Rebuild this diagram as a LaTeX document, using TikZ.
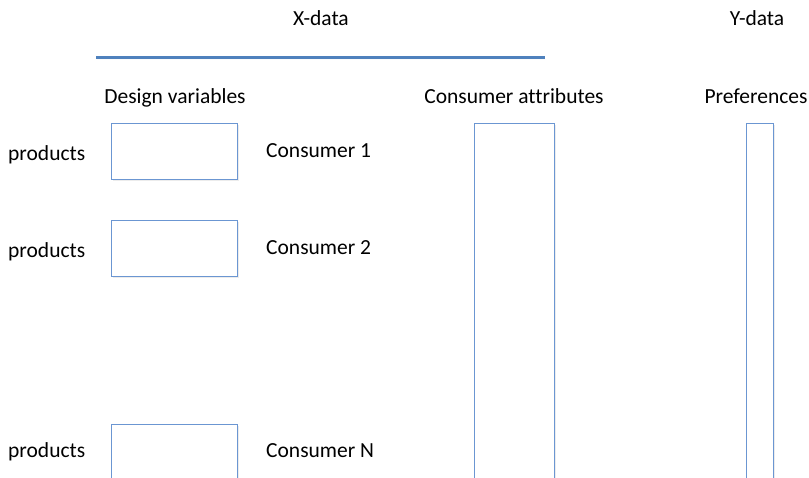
\documentclass[tikz,border=0pt]{standalone}
\usepackage{fontspec}
\setmainfont{Carlito}[Ligatures=NoCommon]
\usetikzlibrary{shadows}
\definecolor{lineblue}{HTML}{4F81BD}
\definecolor{boxblue}{HTML}{6B96D2}
\tikzset{
  label/.style={inner sep=0pt, anchor=base},
  databox/.style={draw=boxblue, line width=1pt, fill=white, inner sep=0pt,
    anchor=north west,
    drop shadow={shadow xshift=1.5pt, shadow yshift=-1.5pt, opacity=0.15}},
}
\begin{document}
\begin{tikzpicture}[x=1pt, y=-1pt]

  \fontsize{21.5}{24}\selectfont

  \newcommand\picW{809};
  \newcommand\picH{477};

  \useasboundingbox (0, 0) rectangle (\picW, \picH);
  \clip (0, 0) rectangle (\picW, \picH);

  %% headings
  \node[label] (xdata) at (321, 25) {X-data};
  \node[label] (ydata) at (757, 25) {Y-data};
  \coordinate (xl) at (96, 57);
  \coordinate (xr) at (545, 57);
  \draw[lineblue, line width=3pt,
    drop shadow={shadow xshift=1pt, shadow yshift=-2pt, opacity=0.25}] (xl) -- (xr);

  \node[label] (design) at (175, 103) {Design variables};
  \node[label] (attrs) at (514, 103) {Consumer attributes};
  \node[label] (prefs) at (756, 103) {Preferences};

  %% one row of products per consumer
  \foreach \n/\y/\pb/\cb/\t in {1/123/160/157/1, 2/220/257/254/2, 3/424/457/457/N} {
    \node[databox, minimum width=126pt, minimum height=56pt] (box\n) at (111, \y) {};
    \node[label, anchor=base west] (prod\n) at (8, \pb) {products};
    \node[label, anchor=base west] (cons\n) at (266, \cb) {Consumer \t};
  }

  %% columns running down the page
  \node[databox, minimum width=80pt, minimum height=400pt] (attrbox) at (474, 123) {};
  \node[databox, minimum width=27pt, minimum height=400pt] (prefbox) at (746, 123) {};

\end{tikzpicture}
\end{document}
